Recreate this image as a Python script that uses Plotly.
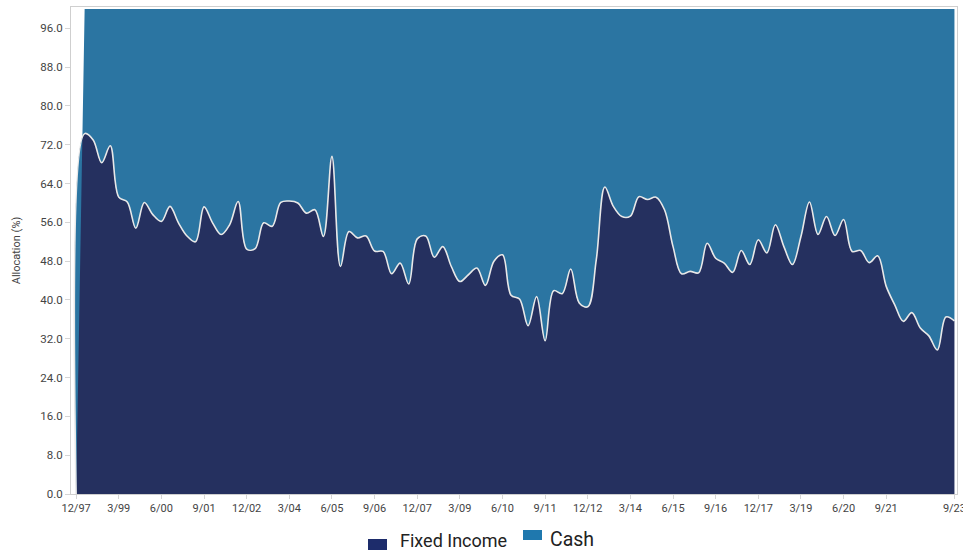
import plotly.graph_objects as go

quarters = [
    "12/97",
    "3/98", "6/98", "9/98", "12/98",
    "3/99", "6/99", "9/99", "12/99",
    "3/00", "6/00", "9/00", "12/00",
    "3/01", "6/01", "9/01", "12/01",
    "3/02", "6/02", "9/02", "12/02",
    "3/03", "6/03", "9/03", "12/03",
    "3/04", "6/04", "9/04", "12/04",
    "3/05", "6/05", "9/05", "12/05",
    "3/06", "6/06", "9/06", "12/06",
    "3/07", "6/07", "9/07", "12/07",
    "3/08", "6/08", "9/08", "12/08",
    "3/09", "6/09", "9/09", "12/09",
    "3/10", "6/10", "9/10", "12/10",
    "3/11", "6/11", "9/11", "12/11",
    "3/12", "6/12", "9/12", "12/12",
    "3/13", "6/13", "9/13", "12/13",
    "3/14", "6/14", "9/14", "12/14",
    "3/15", "6/15", "9/15", "12/15",
    "3/16", "6/16", "9/16", "12/16",
    "3/17", "6/17", "9/17", "12/17",
    "3/18", "6/18", "9/18", "12/18",
    "3/19", "6/19", "9/19", "12/19",
    "3/20", "6/20", "9/20", "12/20",
    "3/21", "6/21", "9/21", "12/21",
    "3/22", "6/22", "9/22", "12/22",
    "3/23", "6/23", "9/23",
]

fixed_income = [
    0,
    74.3, 73.0, 68.3, 71.8,
    61.2, 60.2, 54.8, 60.1,
    57.6, 56.2, 59.3, 55.9,
    53.2, 52.0, 59.2, 55.9,
    53.5, 55.5, 60.3, 50.5,
    50.6, 55.9, 55.2, 60.1,
    60.4, 60.0, 57.9, 58.6,
    53.1, 69.6, 46.9, 54.1,
    52.8, 53.2, 50.1, 50.0,
    45.4, 47.6, 43.3, 52.6,
    53.2, 48.8, 51.0, 46.9,
    43.8, 45.2, 46.6, 43.0,
    48.0, 49.3, 41.0, 40.2,
    34.7, 40.7, 31.6, 41.9,
    41.3, 46.4, 39.4, 38.6,
    48.3, 63.3, 59.3, 57.2,
    57.3, 61.3, 60.7, 61.2,
    58.6, 51.0, 45.4, 45.9,
    45.6, 51.7, 48.6, 47.6,
    45.7, 50.2, 47.3, 52.4,
    49.7, 55.5, 51.0, 47.3,
    53.1, 60.2, 53.5, 57.2,
    53.3, 56.6, 50.0, 50.2,
    47.7, 49.1, 42.8, 39.0,
    35.6, 37.4, 34.2, 32.6,
    29.7, 36.5, 35.7,
]

cash = [
    0,
    25.7, 27.0, 31.7, 28.2,
    38.8, 39.8, 45.2, 39.9,
    42.4, 43.8, 40.7, 44.1,
    46.8, 48.0, 40.8, 44.1,
    46.5, 44.5, 39.7, 49.5,
    49.4, 44.1, 44.8, 39.9,
    39.6, 40.0, 42.1, 41.4,
    46.9, 30.4, 53.1, 45.9,
    47.2, 46.8, 49.9, 50.0,
    54.6, 52.4, 56.7, 47.4,
    46.8, 51.2, 49.0, 53.1,
    56.2, 54.8, 53.4, 57.0,
    52.0, 50.7, 59.0, 59.8,
    65.3, 59.3, 68.4, 58.1,
    58.7, 53.6, 60.6, 61.4,
    51.7, 36.7, 40.7, 42.8,
    42.7, 38.7, 39.3, 38.8,
    41.4, 49.0, 54.6, 54.1,
    54.4, 48.3, 51.4, 52.4,
    54.3, 49.8, 52.7, 47.6,
    50.3, 44.5, 49.0, 52.7,
    46.9, 39.8, 46.5, 42.8,
    46.7, 43.4, 50.0, 49.8,
    52.3, 50.9, 57.2, 61.0,
    64.4, 62.6, 65.8, 67.4,
    70.3, 63.5, 64.3,
]

x_tick_labels = ["12/97", "3/99", "6/00", "9/01", "12/02", "3/04", "6/05", "9/06",
                 "12/07", "3/09", "6/10", "9/11", "12/12", "3/14", "6/15", "9/16",
                 "12/17", "3/19", "6/20", "9/21", "9/23"]
y_tick_values = [0, 8, 16, 24, 32, 40, 48, 56, 64, 72, 80, 88, 96]

series_names = ["Fixed Income", "Cash"]
area_colors = ["#25305f", "#2b75a2"]
legend_colors = ["#1d2c6b", "#1f78ae"]

W, H = 963, 551
ML, MR, MT, MB = 71, 6, 7, 57
PW, PH = W - ML - MR, H - MT - MB


def px_x(p):
    return (p - ML) / PW


def px_y(p):
    return (H - MB - p) / PH


fig = go.Figure()
fig.add_trace(go.Scatter(
    x=quarters, y=fixed_income, name=series_names[0], stackgroup="one",
    mode="lines", line=dict(color="#e8e8e8", width=1.6, shape="spline", smoothing=1),
    fillcolor=area_colors[0], showlegend=False,
))
fig.add_trace(go.Scatter(
    x=quarters, y=cash, name=series_names[1], stackgroup="one",
    mode="lines", line=dict(color=area_colors[1], width=0, shape="linear"),
    fillcolor=area_colors[1], showlegend=False,
))

axis_font = dict(family="Roboto, Arial, sans-serif", size=11, color="#444444")

fig.update_layout(
    width=W, height=H,
    margin=dict(l=ML, r=MR, t=MT, b=MB, autoexpand=False),
    paper_bgcolor="white", plot_bgcolor="white",
    font=axis_font,
    xaxis=dict(
        type="category", range=[-0.6, 103.3],
        tickmode="array", tickvals=x_tick_labels, ticktext=x_tick_labels,
        tickangle=0,
        showgrid=False, zeroline=False,
        showline=True, linecolor="#cfcfcf", linewidth=1, mirror=True,
        ticks="outside", ticklen=4, tickcolor="#d5d5d5",
        tickfont=dict(family="Roboto, Arial, sans-serif", size=11, color="#444444"),
    ),
    yaxis=dict(
        range=[0, 100.4],
        tickmode="array", tickvals=y_tick_values,
        tickformat=".1f",
        showgrid=False, zeroline=False,
        showline=True, linecolor="#cfcfcf", linewidth=1, mirror=True,
        ticks="outside", ticklen=5, tickcolor="#d5d5d5",
        tickfont=dict(family="Roboto, Arial, sans-serif", size=11.5, color="#444444"),
        title=dict(text="Allocation (%)", standoff=17,
                   font=dict(family="Roboto, Arial, sans-serif", size=11, color="#444444")),
    ),
)

# legend drawn as swatches + text below the plot
fig.add_shape(type="rect", xref="paper", yref="paper",
              x0=px_x(368), x1=px_x(387), y0=px_y(550), y1=px_y(539),
              fillcolor=legend_colors[0], line=dict(width=0))
fig.add_shape(type="rect", xref="paper", yref="paper",
              x0=px_x(523), x1=px_x(542), y0=px_y(540), y1=px_y(530),
              fillcolor=legend_colors[1], line=dict(width=0))
fig.add_annotation(xref="paper", yref="paper", x=px_x(398), y=px_y(540.5),
                   xanchor="left", yanchor="middle", showarrow=False,
                   text=series_names[0],
                   font=dict(family="Roboto, Arial, sans-serif", size=18, color="#222222"))
fig.add_annotation(xref="paper", yref="paper", x=px_x(548), y=px_y(539),
                   xanchor="left", yanchor="middle", showarrow=False,
                   text=series_names[1],
                   font=dict(family="Roboto, Arial, sans-serif", size=19.5, color="#222222"))

fig.write_html(
    "out.html",
    config={"displayModeBar": False},
    post_script="document.body.style.margin='0px';document.body.style.overflow='hidden';",
)
